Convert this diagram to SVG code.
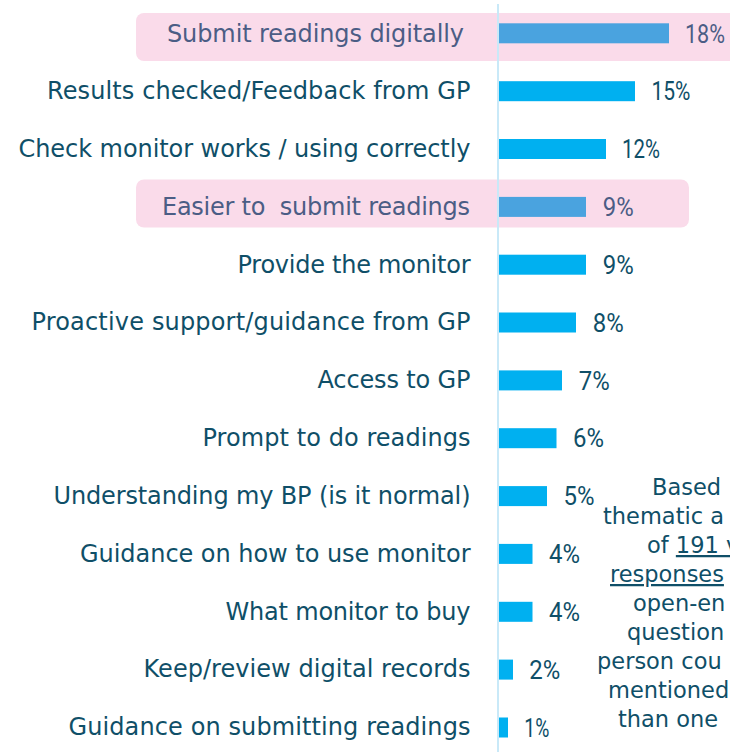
<svg xmlns="http://www.w3.org/2000/svg" width="730" height="752" viewBox="0 0 730 752">
<defs>
<style>
.lbl{font-family:"DejaVu Sans","Liberation Sans",sans-serif;font-size:24px;fill:#0f4f68;text-anchor:end}
.lbl.hl{fill:#4b5d85}
.pct{font-family:Roboto,"Liberation Sans",sans-serif;font-size:25px;fill:#0f4f68}
.pct.hl{fill:#4b5d85}
.bar{fill:#00b0f0}
.bar.hl{fill:#4aa3df}
.hlbox{fill:#fadbea}
.note{font-family:"DejaVu Sans","Liberation Sans",sans-serif;font-size:22.5px;fill:#0f4f68}
</style>
</defs>
<rect width="730" height="752" fill="#ffffff"/>
<g id="highlights">
<rect class="hlbox" x="136" y="13" width="610" height="48" rx="8"/>
<rect class="hlbox" x="136" y="179.5" width="553" height="48" rx="8"/>
</g>
<g id="connectors">
<line x1="498" y1="4" x2="498" y2="752" stroke="#c9e9f8" stroke-width="2"/>
</g>
<g id="row1"><rect class="bar hl" x="499" y="23.3" width="170" height="20"/><text class="lbl hl" x="464" y="41.5" textLength="297">Submit readings digitally</text><text class="pct hl" x="685" y="42.5" textLength="40" lengthAdjust="spacingAndGlyphs">18%</text></g>
<g id="row2"><rect class="bar" x="499" y="81.2" width="136" height="20"/><text class="lbl" x="470.5" y="99" textLength="423.5">Results checked/Feedback from GP</text><text class="pct" x="651.5" y="100.4" textLength="39" lengthAdjust="spacingAndGlyphs">15%</text></g>
<g id="row3"><rect class="bar" x="499" y="139" width="107" height="20"/><text class="lbl" x="470.5" y="156.8" textLength="452">Check monitor works / using correctly</text><text class="pct" x="622" y="158.2" textLength="38" lengthAdjust="spacingAndGlyphs">12%</text></g>
<g id="row4"><rect class="bar hl" x="499" y="196.9" width="87" height="20"/><text class="lbl hl" x="470" y="214.7" textLength="308" xml:space="preserve" style="white-space:pre">Easier to  submit readings</text><text class="pct hl" x="602.7" y="216" textLength="31" lengthAdjust="spacingAndGlyphs">9%</text></g>
<g id="row5"><rect class="bar" x="499" y="254.7" width="87" height="20"/><text class="lbl" x="470.5" y="272.5" textLength="233">Provide the monitor</text><text class="pct" x="602.7" y="273.9" textLength="31" lengthAdjust="spacingAndGlyphs">9%</text></g>
<g id="row6"><rect class="bar" x="499" y="312.5" width="77" height="20"/><text class="lbl" x="470.5" y="330.3" textLength="439">Proactive support/guidance from GP</text><text class="pct" x="592.7" y="331.7" textLength="31" lengthAdjust="spacingAndGlyphs">8%</text></g>
<g id="row7"><rect class="bar" x="499" y="370.4" width="63" height="20"/><text class="lbl" x="470.5" y="388.2" textLength="153">Access to GP</text><text class="pct" x="578.7" y="389.6" textLength="31" lengthAdjust="spacingAndGlyphs">7%</text></g>
<g id="row8"><rect class="bar" x="499" y="428.2" width="57.5" height="20"/><text class="lbl" x="470.5" y="446" textLength="268">Prompt to do readings</text><text class="pct" x="573" y="447.4" textLength="31" lengthAdjust="spacingAndGlyphs">6%</text></g>
<g id="row9"><rect class="bar" x="499" y="486.1" width="48" height="20"/><text class="lbl" x="470.5" y="503.9" textLength="417">Understanding my BP (is it normal)</text><text class="pct" x="563.5" y="505.3" textLength="31" lengthAdjust="spacingAndGlyphs">5%</text></g>
<g id="row10"><rect class="bar" x="499" y="543.9" width="33.5" height="20"/><text class="lbl" x="470.5" y="561.7" textLength="390.5">Guidance on how to use monitor</text><text class="pct" x="549" y="563.1" textLength="31" lengthAdjust="spacingAndGlyphs">4%</text></g>
<g id="row11"><rect class="bar" x="499" y="601.8" width="33.5" height="20"/><text class="lbl" x="470.5" y="619.6" textLength="245">What monitor to buy</text><text class="pct" x="549" y="621" textLength="31" lengthAdjust="spacingAndGlyphs">4%</text></g>
<g id="row12"><rect class="bar" x="499" y="659.6" width="14" height="20"/><text class="lbl" x="470.5" y="677.4" textLength="327">Keep/review digital records</text><text class="pct" x="529.3" y="678.8" textLength="31" lengthAdjust="spacingAndGlyphs">2%</text></g>
<g id="row13"><rect class="bar" x="499" y="717.5" width="9" height="20"/><text class="lbl" x="470.5" y="735.3" textLength="402">Guidance on submitting readings</text><text class="pct" x="524.3" y="736.7" textLength="25" lengthAdjust="spacingAndGlyphs">1%</text></g>
<g id="note">
<text class="note" x="652" y="495">Based</text>
<text class="note" x="603" y="524">thematic a</text>
<text class="note" x="647" y="553">of <tspan text-decoration="underline">191 va</tspan></text>
<text class="note" x="610" y="582"><tspan text-decoration="underline">responses</tspan></text>
<text class="note" x="633" y="611">open-en</text>
<text class="note" x="627" y="640">question</text>
<text class="note" x="597" y="669">person cou</text>
<text class="note" x="608" y="698">mentioned</text>
<text class="note" x="618" y="727">than one</text>
</g>
</svg>
